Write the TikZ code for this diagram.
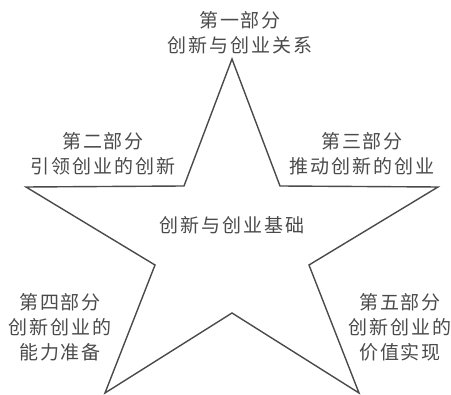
\documentclass[tikz,border=0pt]{standalone}
\usepackage{xcolor}
\usepackage{fontspec}
\usepackage{tikz}
\newfontfamily\cjk[LetterSpace=10]{Noto Sans CJK SC}
\definecolor{inkgray}{HTML}{4A4A4A}

\begin{document}
\begin{tikzpicture}[x=1pt, y=-1pt,
  every node/.style={align=center, text=inkgray, font=\cjk\fontsize{19}{25}\selectfont}]
  \useasboundingbox (0, 0) rectangle (451, 395);

  % the star
  \draw[inkgray, line width=1.4pt, line join=miter]
    (232, 59) -- (280, 186) -- (438, 187) -- (309, 265) -- (359, 393)
    -- (232, 313) -- (105, 393) -- (155, 265) -- (26, 187) -- (184, 186) -- cycle;

  \node (p1) at (240, 33) {第一部分\\创新与创业关系};
  \node (p2) at (103, 154) {第二部分\\引领创业的创新};
  \node (p3) at (362, 154) {第三部分\\推动创新的创业};
  \node (c) at (232, 225) {创新与创业基础};
  \node (p4) at (60, 327) {第四部分\\创新创业的\\能力准备};
  \node (p5) at (400, 327) {第五部分\\创新创业的\\价值实现};
\end{tikzpicture}
\end{document}
